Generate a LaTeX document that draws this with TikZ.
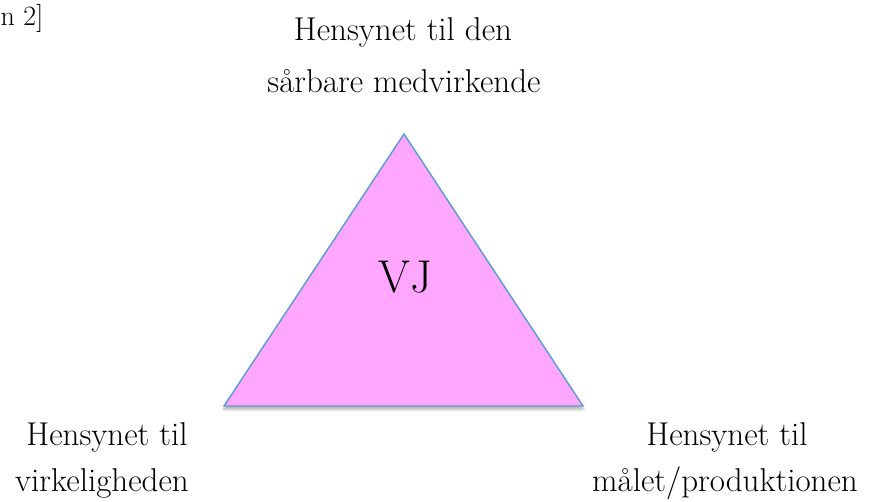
\documentclass[tikz,border=0pt]{standalone}
\usetikzlibrary{shadows,shadows.blur}
\definecolor{trifill}{RGB}{255,166,255}
\definecolor{triline}{RGB}{91,155,213}
\tikzset{
  lbl/.style={inner sep=0pt, anchor=base, font=\fontsize{33}{38}\selectfont},
  tri/.style={fill=trifill, draw=triline, line width=1.4pt, line join=miter,
    blur shadow={shadow xshift=0pt, shadow yshift=-3pt, shadow blur radius=3pt, shadow opacity=35}}
}
\begin{document}
\begin{tikzpicture}[x=1pt,y=-1pt]
\useasboundingbox (0,0) rectangle (869,501);
\coordinate (T) at (404,134);
\coordinate (L) at (224,406);
\coordinate (R) at (583,406);
\draw[tri] (T) -- (L) -- (R) -- cycle;
\node[inner sep=0pt, anchor=base, font=\fontsize{46}{52}\selectfont] (vj) at (405,292) {VJ};
\node[lbl] (t1) at (403,40) {Hensynet til den};
\node[lbl] (t2) at (404,92) {sårbare medvirkende};
\node[lbl] (l1) at (107,445) {Hensynet til};
\node[lbl] (l2) at (102,491) {virkeligheden};
\node[lbl] (r1) at (727,445) {Hensynet til};
\node[lbl] (r2) at (725,491) {målet/produktionen};
\node[inner sep=0pt, anchor=base west, font=\fontsize{28}{32}\selectfont] (fig) at (0.5,25) {n 2]};
\end{tikzpicture}
\end{document}
